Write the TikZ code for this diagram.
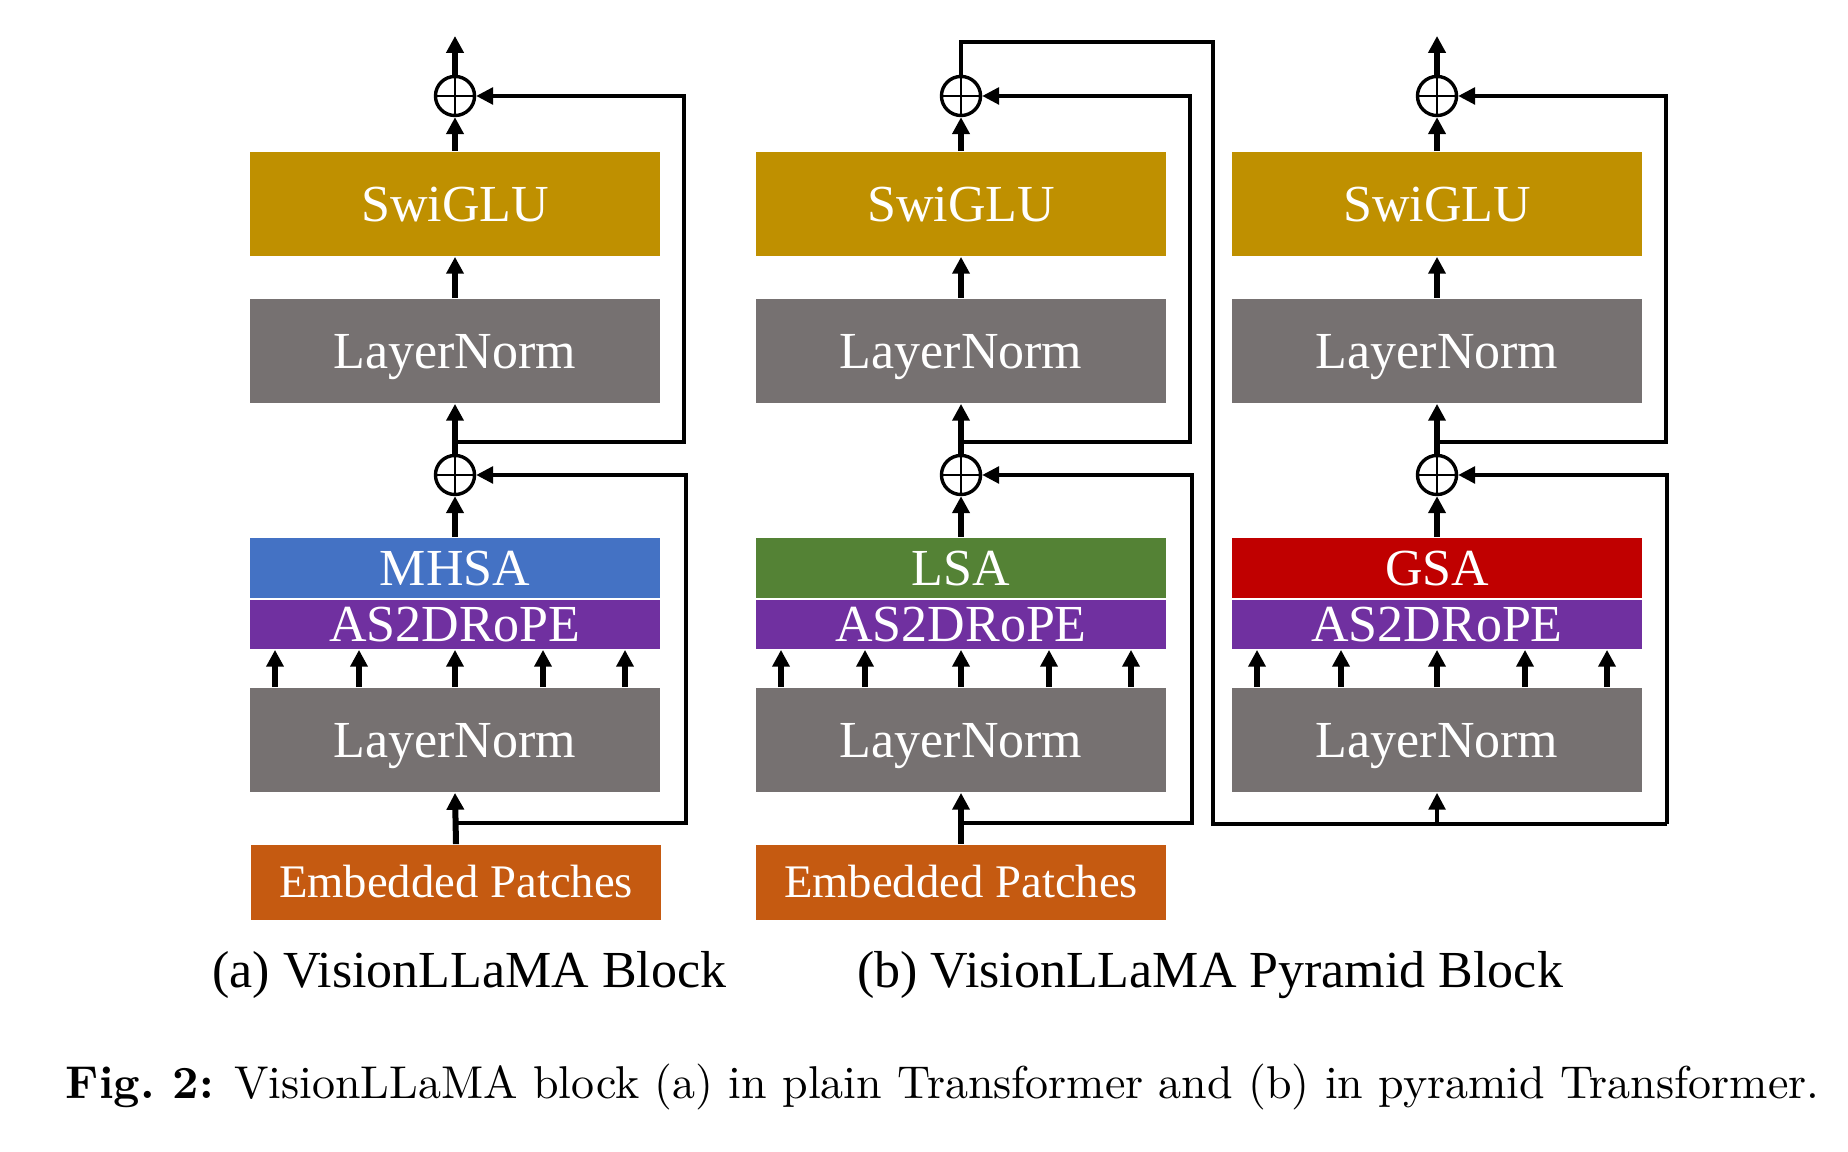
\documentclass[tikz,border=0pt]{standalone}
\usepackage{fontspec}
\newfontfamily\tnr{Liberation Serif}
\usetikzlibrary{arrows.meta,calc}
\definecolor{cSwi}{HTML}{BF9000}
\definecolor{cLN}{HTML}{767171}
\definecolor{cMHSA}{HTML}{4472C4}
\definecolor{cRope}{HTML}{7030A0}
\definecolor{cLSA}{HTML}{548235}
\definecolor{cGSA}{HTML}{C00000}
\definecolor{cEmb}{HTML}{C55A11}
\tikzset{
  blk/.style={rectangle, fill=#1, text=white, inner sep=0pt, minimum width=90pt,
    text height=7.57pt, text depth=0pt, font=\tnr\fontsize{11.44}{13}\selectfont},
  addn/.style={circle, draw, line width=0.75pt, minimum size=8.6pt, inner sep=0pt},
  trunk/.style={line width=1.32pt, -{Triangle[length=3.7pt,width=3.7pt]}},
  thinarrow/.style={line width=0.72pt, -{Triangle[length=3.7pt,width=3.7pt]}},
  thinline/.style={line width=0.72pt},
  crossl/.style={line width=0.6pt},
  subcap/.style={anchor=base, font=\tnr\fontsize{11.44}{13}\selectfont},
}
\newcommand\vlcol[4]{%
  \node[blk=cSwi, minimum height=22.88pt] (#1sw) at (#2,204) {SwiGLU};
  \node[blk=cLN, minimum height=22.88pt] (#1lnb) at (#2,351) {LayerNorm};
  \node[addn] (#1ct) at (#2,96) {};
  \node[addn] (#1cl) at (#2,475) {};
  \node[blk=#4, minimum height=13.2pt] (#1at) at (#2,568) {#3};
  \node[blk=cRope, minimum height=10.78pt] (#1rp) at (#2,624.5) {AS2DRoPE};
  \node[blk=cLN, minimum height=22.88pt] (#1lna) at (#2,740) {LayerNorm};
  \draw[crossl] (#1ct.north) -- (#1ct.south) (#1ct.west) -- (#1ct.east);
  \draw[crossl] (#1cl.north) -- (#1cl.south) (#1cl.west) -- (#1cl.east);
  \draw[trunk] (#1sw.north) -- (#1ct.south);
  \draw[trunk] (#1lnb.north) -- (#1sw.south);
  \draw[trunk] (#1cl.north) -- (#1lnb.south);
  \draw[trunk] (#1at.north) -- (#1cl.south);
  \foreach \o in {-180,-96,0,88,170}
    \draw[trunk] ($(#1lna.north)+(\o,0)$) -- ($(#1rp.south)+(\o,0)$);
  \coordinate (#1jb) at (#2,442);
  \coordinate (#1rb) at (#2+229,442);
  \draw[thinarrow] (#1jb) -- (#1rb) |- (#1ct.east);
}
\begin{document}
\begin{tikzpicture}[x=0.22pt,y=-0.22pt]
\useasboundingbox (0,0) rectangle (1848,1152);
% columns
\vlcol{A}{455}{MHSA}{cMHSA}
\vlcol{B}{961}{LSA}{cLSA}
\vlcol{C}{1437}{GSA}{cGSA}
% embedded patches
\node[blk=cEmb, minimum height=16.5pt, text height=6.8pt, font=\tnr\fontsize{10.27}{12}\selectfont] (Aemb) at (456,882.5) {Embedded Patches};
\node[blk=cEmb, minimum height=16.5pt, text height=6.8pt, font=\tnr\fontsize{10.27}{12}\selectfont] (Bemb) at (961,882.5) {Embedded Patches};
\draw[trunk] (Aemb.north) -- (Alna.south);
\draw[trunk] (Bemb.north) -- (Blna.south);
% lower skips of A and B
\coordinate (Aja) at (455,823);
\coordinate (Ara) at (686,823);
\draw[thinarrow] (Aja) -- (Ara) |- (Acl.east);
\coordinate (Bja) at (961,823);
\coordinate (Bra) at (1192,823);
\draw[thinarrow] (Bja) -- (Bra) |- (Bcl.east);
% outputs
\coordinate (Aout) at (455,36);
\coordinate (Cout) at (1437,36);
\draw[trunk] (Act.north) -- (Aout);
\draw[trunk] (Cct.north) -- (Cout);
% B output routed to C input
\coordinate (Bup) at (961,42);
\coordinate (Bcorner) at (1213,42);
\coordinate (Bbot) at (1213,824);
\coordinate (Cjn) at (1437,824);
\coordinate (Crt) at (1667,824);
\draw[thinline] (Bct.north) -- (Bup) -- (Bcorner) -- (Bbot) -- (Crt);
\draw[thinarrow] (Crt) |- (Ccl.east);
\draw[thinarrow] (Cjn) -- (Clna.south);
% sub-captions
\node[subcap] (capa) at (469.5,988) {(a) VisionLLaMA Block};
\node[subcap] (capb) at (1210,988) {(b) VisionLLaMA Pyramid Block};
% caption
\node[anchor=base west, inner sep=0pt, font=\fontsize{10.12}{12}\selectfont] (cap) at (65,1098)
  {\textbf{Fig.\ 2:} VisionLLaMA block (a) in plain Transformer and (b) in pyramid Transformer.};
\end{tikzpicture}
\end{document}
